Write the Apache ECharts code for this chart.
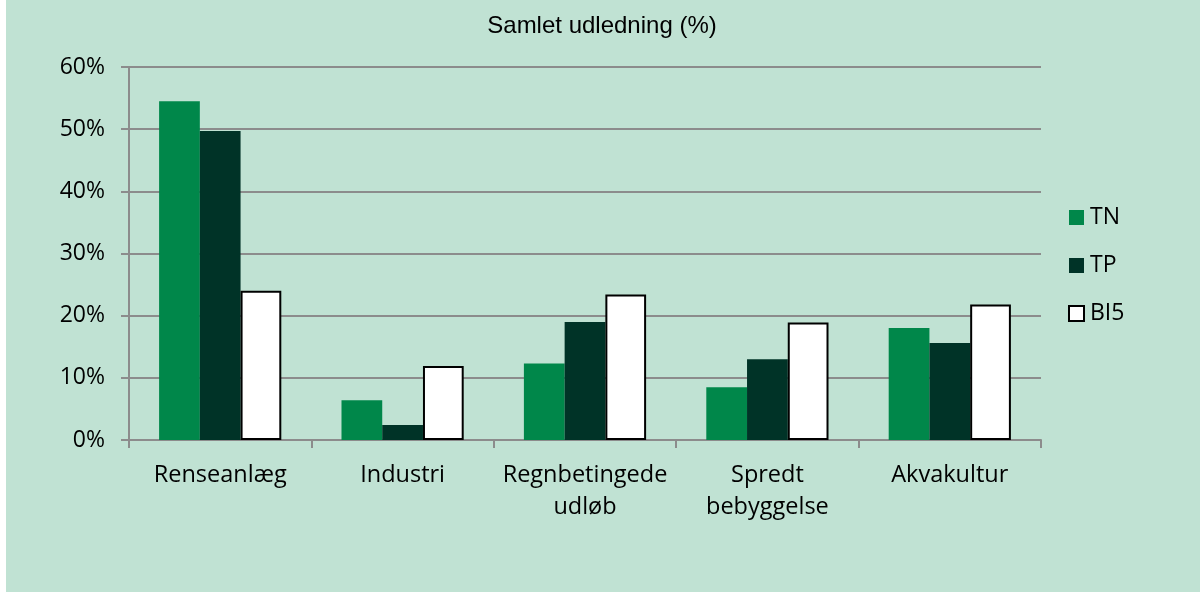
<!DOCTYPE html>
<html>
<head>
<meta charset="utf-8">
<script src="https://cdn.jsdelivr.net/npm/echarts@6/dist/echarts.min.js"></script>
<style>
	html, body { margin: 0; padding: 0; background: #ffffff; }
	#main { position: absolute; left: 6px; top: 0; width: 1194px; height: 592px; }
</style>
</head>
<body>
<div id="main"></div>
<script>
// 数据
var categories = ['Renseanlæg', 'Industri', 'Regnbetingede\nudløb', 'Spredt\nbebyggelse', 'Akvakultur'];
var tnValues = [54.5, 6.4, 12.3, 8.5, 18.0];
var tpValues = [49.7, 2.4, 19.0, 13.0, 15.6];
var bi5Values = [24.0, 11.9, 23.4, 18.9, 21.8];
var yTicks = [0, 10, 20, 30, 40, 50, 60];

var chart = echarts.init(document.getElementById('main'));
var fontFam = '"Open Sans", "Noto Sans", sans-serif';

var option = {
	backgroundColor: '#c0e2d3',
	animation: false,
	title: {
		text: 'Samlet udledning (%)',
		left: 591,
		top: 9,
		textAlign: 'center',
		textStyle: { fontFamily: '"Liberation Sans", Arial, sans-serif', fontSize: 24, fontWeight: 'normal', color: '#000' }
	},
	legend: {
		orient: 'vertical',
		left: 1057,
		top: 201,
		itemGap: 25,
		itemWidth: 15,
		itemHeight: 15,
		icon: 'rect',
		textStyle: { fontFamily: fontFam, fontSize: 23, color: '#000', padding: [0, 0, 0, 1] },
		data: ['TN', 'TP', 'BI5']
	},
	grid: {
		left: 123,
		right: 159,
		top: 67,
		bottom: 152
	},
	xAxis: {
		type: 'category',
		data: categories,
		axisLine: { lineStyle: { color: '#8c8c8c', width: 2 } },
		axisTick: { show: true, length: 8, lineStyle: { color: '#8c8c8c', width: 2 } },
		axisLabel: { fontFamily: fontFam, fontSize: 23.5, color: '#000', margin: 19, lineHeight: 32, interval: 0 }
	},
	yAxis: {
		type: 'value',
		min: 0,
		max: 60,
		interval: 10,
		axisLine: { show: true, lineStyle: { color: '#8c8c8c', width: 2 } },
		axisTick: { show: true, length: 8, lineStyle: { color: '#8c8c8c', width: 2 } },
		splitLine: { lineStyle: { color: '#8c8c8c', width: 2 } },
		axisLabel: {
			fontFamily: fontFam, fontSize: 23, color: '#000', margin: 24,
			formatter: function (v) { return yTicks.indexOf(v) >= 0 ? v + '%' : ''; }
		}
	},
	series: [
		{
			name: 'TN', type: 'bar', data: tnValues,
			barGap: '0%', barCategoryGap: '33%',
			itemStyle: { color: '#00874a' }
		},
		{
			name: 'TP', type: 'bar', data: tpValues,
			barGap: '0%', barCategoryGap: '33%',
			itemStyle: { color: '#003327' }
		},
		{
			name: 'BI5', type: 'bar', data: bi5Values,
			barGap: '0%', barCategoryGap: '33%',
			itemStyle: { color: '#ffffff', borderColor: '#000000', borderWidth: 2 }
		}
	]
};

chart.setOption(option);
window.onresize = function () { chart.resize(); };
</script>
</body>
</html>
